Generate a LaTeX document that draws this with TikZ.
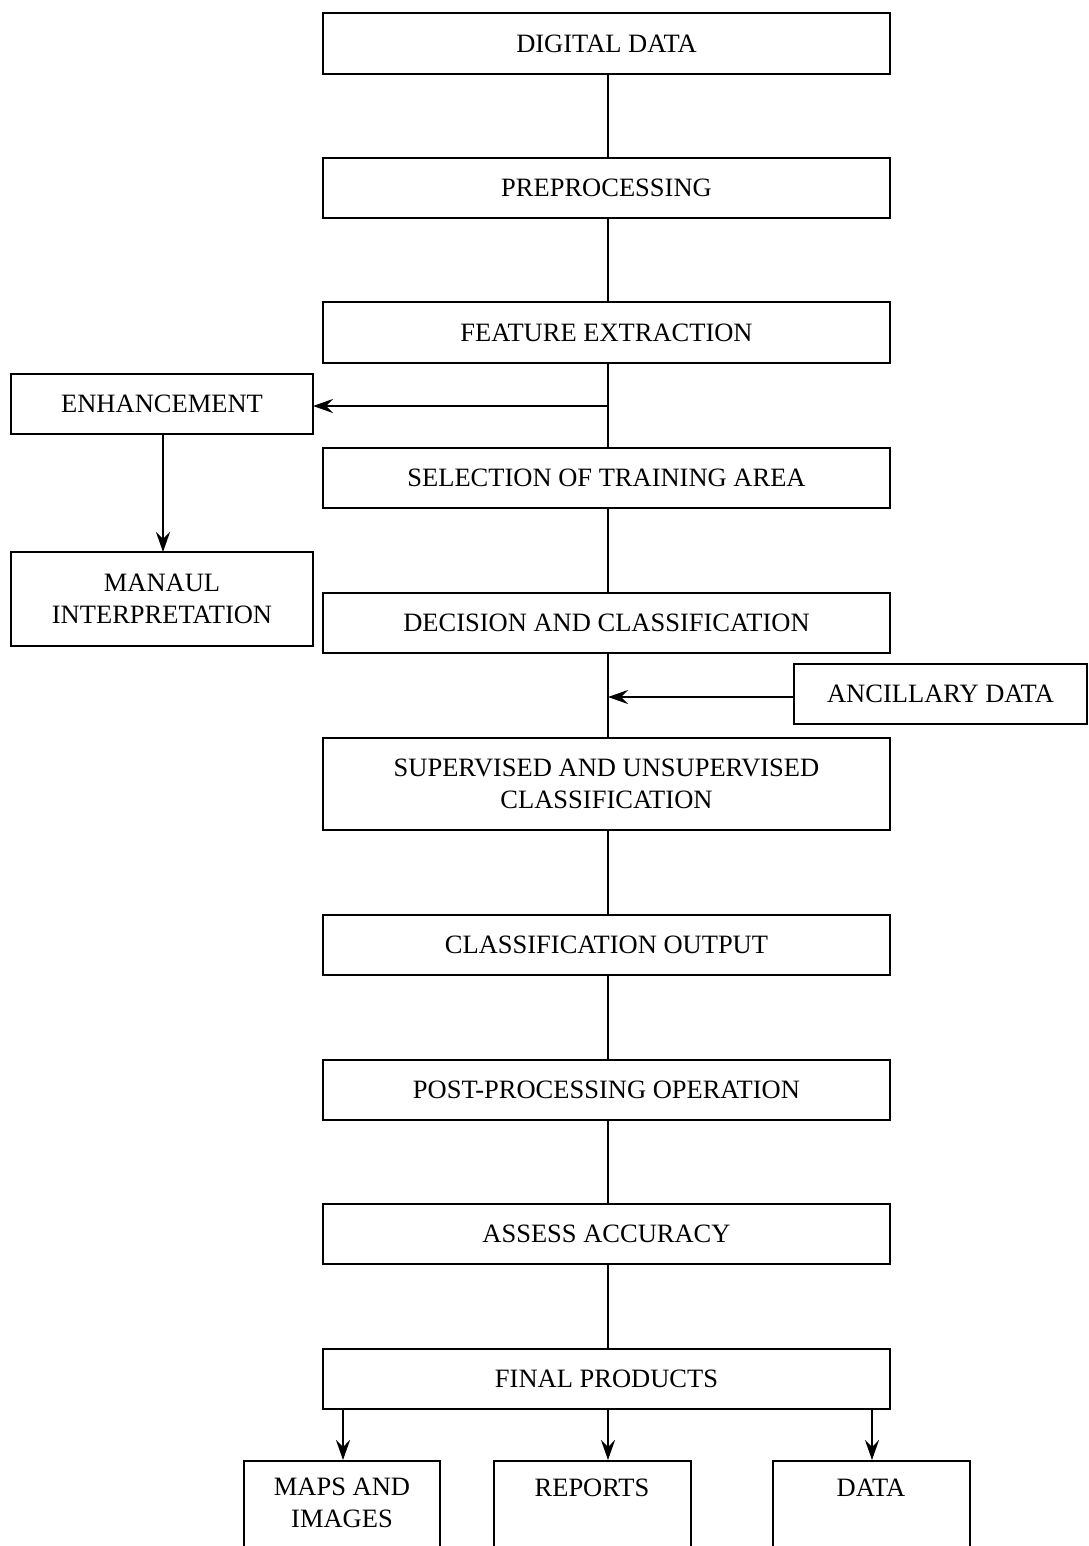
\documentclass[tikz,border=0pt]{standalone}
\usepackage{fontspec}
\setmainfont{Liberation Serif}
\usetikzlibrary{arrows.meta}
\begin{document}
\begin{tikzpicture}[x=1pt,y=-1pt,
  box/.style={draw,line width=1.8pt},
  lbl/.style={font=\fontsize{26.5}{32}\selectfont,align=center,inner sep=0pt},
  link/.style={line width=1.8pt},
  arr/.style={line width=1.8pt,-{Stealth[length=20pt,width=14pt,inset=7pt]}}]
\clip (0,0) rectangle (1088,1546);
\useasboundingbox (0,0) rectangle (1088,1546);

% main column boxes
\draw[box] (323,13) rectangle (890,74) node[lbl,midway] (dd) {DIGITAL DATA};
\draw[box] (323,158) rectangle (890,218) node[lbl,midway] (pp) {PREPROCESSING};
\draw[box] (323,302) rectangle (890,363) node[lbl,midway] (fe) {FEATURE EXTRACTION};
\draw[box] (323,448) rectangle (890,508) node[lbl,midway] (st) {SELECTION OF TRAINING AREA};
\draw[box] (323,593) rectangle (890,653) node[lbl,midway] (dc) {DECISION AND CLASSIFICATION};
\draw[box] (323,738) rectangle (890,830) node[lbl,midway] (su) {SUPERVISED AND UNSUPERVISED\\CLASSIFICATION};
\draw[box] (323,915) rectangle (890,975) node[lbl,midway] (co) {CLASSIFICATION OUTPUT};
\draw[box] (323,1060) rectangle (890,1120) node[lbl,midway] (po) {POST-PROCESSING OPERATION};
\draw[box] (323,1204) rectangle (890,1264) node[lbl,midway] (aa) {ASSESS ACCURACY};
\draw[box] (323,1349) rectangle (890,1409) node[lbl,midway] (fp) {FINAL PRODUCTS};

% side boxes
\draw[box] (11,374) rectangle (313,434) node[lbl,midway] (en) {ENHANCEMENT};
\draw[box] (11,552) rectangle (313,646) node[lbl,midway] (mi) {MANAUL\\INTERPRETATION};
\draw[box] (794,664) rectangle (1087,724) node[lbl,midway] (an) {ANCILLARY DATA};

% output boxes (run past the lower edge)
\draw[box] (244,1461) rectangle (440,1580);
\draw[box] (494,1461) rectangle (691,1580);
\draw[box] (773,1461) rectangle (970,1580);
\node[lbl] (mp) at (342,1503) {MAPS AND\\IMAGES};
\node[lbl] (rp) at (592,1488) {REPORTS};
\node[lbl] (da) at (871,1488) {DATA};

% anchor points on box edges
\coordinate (ddb) at (608,74);   \coordinate (ppt) at (608,158);
\coordinate (ppb) at (608,218);  \coordinate (fet) at (608,302);
\coordinate (feb) at (608,363);  \coordinate (stt) at (608,448);
\coordinate (stb) at (608,508);  \coordinate (dct) at (608,593);
\coordinate (dcb) at (608,653);  \coordinate (sut) at (608,738);
\coordinate (sub) at (608,830);  \coordinate (cot) at (608,915);
\coordinate (cob) at (608,975);  \coordinate (pot) at (608,1060);
\coordinate (pob) at (608,1120); \coordinate (aat) at (608,1204);
\coordinate (aab) at (608,1264); \coordinate (fpt) at (608,1349);
\coordinate (enj) at (608,406);  \coordinate (enr) at (313,406);
\coordinate (enb) at (163,434);  \coordinate (mit) at (163,552);
\coordinate (anl) at (794,697);  \coordinate (anj) at (608,697);
\coordinate (fp1) at (343,1409); \coordinate (mpt) at (343,1460);
\coordinate (fp2) at (608,1409); \coordinate (rpt) at (608,1460);
\coordinate (fp3) at (872,1409); \coordinate (dat) at (872,1460);

% connectors
\draw[link] (ddb) -- (ppt);
\draw[link] (ppb) -- (fet);
\draw[link] (feb) -- (stt);
\draw[link] (stb) -- (dct);
\draw[link] (dcb) -- (sut);
\draw[link] (sub) -- (cot);
\draw[link] (cob) -- (pot);
\draw[link] (pob) -- (aat);
\draw[link] (aab) -- (fpt);
\draw[arr] (enj) -- (enr);
\draw[arr] (enb) -- (mit);
\draw[arr] (anl) -- (anj);
\draw[arr] (fp1) -- (mpt);
\draw[arr] (fp2) -- (rpt);
\draw[arr] (fp3) -- (dat);
\end{tikzpicture}
\end{document}
